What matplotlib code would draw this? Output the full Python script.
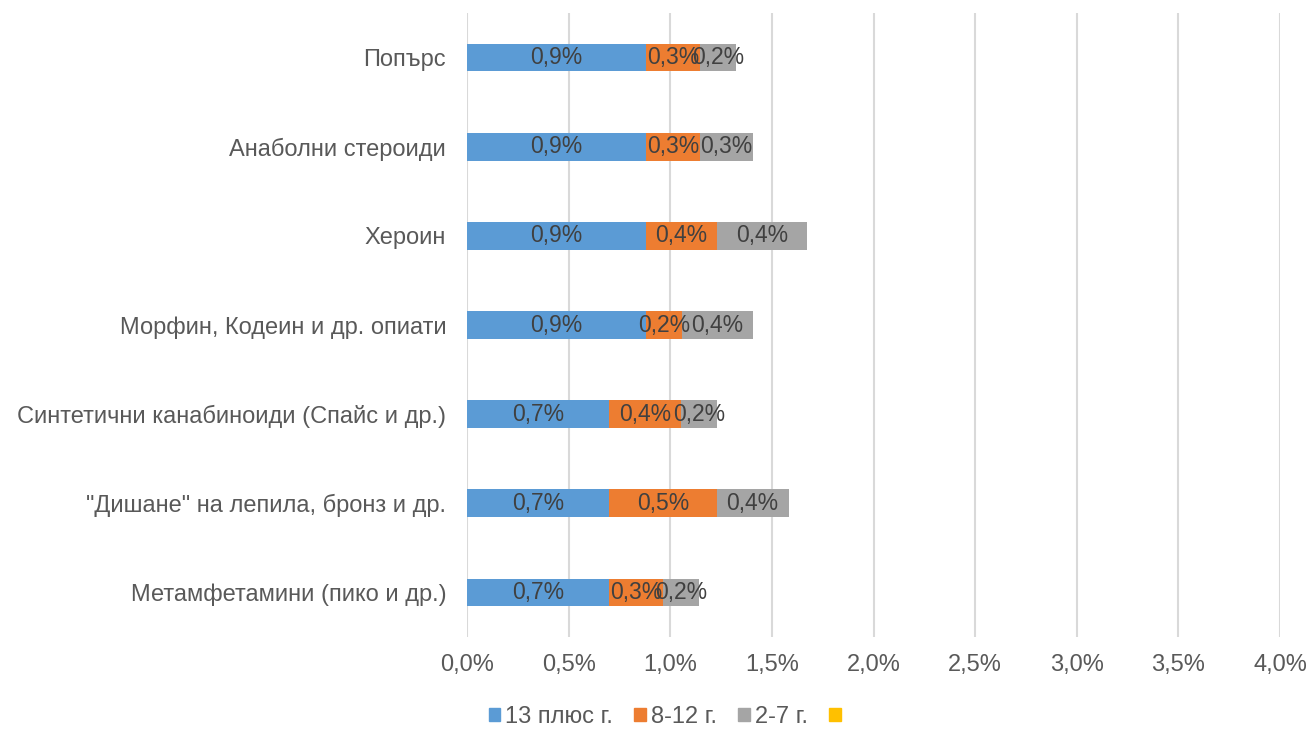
import matplotlib.pyplot as plt
from matplotlib.patches import Patch

plt.rcParams['font.family'] = ['Liberation Sans', 'DejaVu Sans']

# Substances, listed top to bottom
substances = ['Попърс', 'Анаболни стероиди', 'Хероин', 'Морфин, Кодеин и др. опиати',
              'Синтетични канабиноиди (Спайс и др.)', '"Дишане" на лепила, бронз и др.',
              'Метамфетамини (пико и др.)']

# Share of respondents, % (by age when first tried)
age_13_plus = [0.88, 0.88, 0.88, 0.88, 0.70, 0.70, 0.70]
age_8_12 = [0.265, 0.265, 0.352, 0.177, 0.354, 0.528, 0.264]
age_2_7 = [0.177, 0.264, 0.443, 0.352, 0.176, 0.354, 0.179]
age_other = [0, 0, 0, 0, 0, 0, 0]

series_names = ['13 плюс г.', '8-12 г.', '2-7 г.', '']
colors = ['#5b9bd5', '#ed7d31', '#a5a5a5', '#ffc000']
text_color = '#595959'

fig = plt.figure(figsize=(13.1, 7.4), dpi=100)
ax = fig.add_axes([467 / 1310, 103 / 740, (1280 - 467) / 1310, 624 / 740])

ypos = list(range(len(substances)))
left = [0] * len(substances)
for vals, color in zip([age_13_plus, age_8_12, age_2_7, age_other], colors):
    ax.barh(ypos, vals, left=left, height=0.31, color=color, zorder=3)
    for y, l, v in zip(ypos, left, vals):
        if v > 0:
            ax.text(l + v / 2, y, f'{v:.1f}%'.replace('.', ','), ha='center', va='center',
                    fontsize=16.5, color='#404040', zorder=4)
    left = [a + b for a, b in zip(left, vals)]

ax.set_xlim(0, 4.0)
ax.set_ylim(len(substances) - 0.5, -0.5)
ax.set_xticks([i * 0.5 for i in range(9)])
ax.set_xticklabels([f'{i * 0.5:.1f}%'.replace('.', ',') for i in range(9)],
                   fontsize=17, color=text_color)
ax.set_yticks(ypos)
ax.set_yticklabels(substances, fontsize=17, color=text_color)
ax.tick_params(length=0)
ax.tick_params(axis='x', pad=12)
ax.tick_params(axis='y', pad=15)
ax.grid(axis='x', color='#d9d9d9', linewidth=1.5, zorder=0)
for s in ax.spines.values():
    s.set_visible(False)

handles = [Patch(color=c, label=n) for c, n in zip(colors, series_names)]
fig.legend(handles=handles, loc='center', bbox_to_anchor=(667 / 1310, 1 - 717 / 740),
           ncol=4, frameon=False, fontsize=17, labelcolor=text_color,
           handlelength=0.5, handleheight=0.5, handletextpad=0.2, columnspacing=0.9)

fig.savefig('out.png', dpi=100, facecolor='white')
